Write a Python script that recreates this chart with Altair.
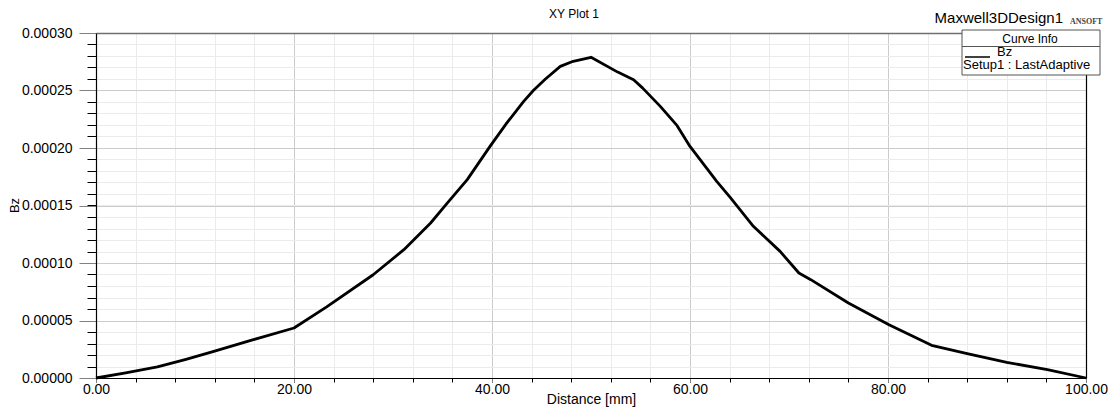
import altair as alt
import pandas as pd

# Curve data
distance_mm = [0, 3.0, 6.2, 9.0, 11.9, 15.9, 20.0, 23.3, 28.0, 31.1, 33.8, 35.5, 37.5,
               39.8, 41.5, 43.2, 44.2, 45.4, 46.9, 48.2, 50.0, 52.7, 54.3, 55.2, 57.0,
               58.7, 60.0, 62.7, 64.1, 66.4, 69.1, 71.0, 72.2, 76.0, 80.1, 84.4, 88.0,
               92.0, 96.1, 100.0]
bz = [0.0, 0.0000045, 0.0000096, 0.0000160, 0.0000231, 0.0000333, 0.0000435, 0.0000618,
      0.0000898, 0.0001116, 0.0001348, 0.0001522, 0.0001725, 0.0002014, 0.0002218,
      0.0002406, 0.0002502, 0.0002600, 0.0002710, 0.0002754, 0.0002789, 0.0002660,
      0.0002594, 0.0002523, 0.0002362, 0.0002194, 0.0002014, 0.0001710, 0.0001566,
      0.0001319, 0.0001101, 0.0000913, 0.0000855, 0.0000652, 0.0000464, 0.0000284,
      0.0000211, 0.0000136, 0.0000072, 0.0]

x_major = [0, 20, 40, 60, 80, 100]
x_minor = [0, 4, 8, 12, 16, 20, 24, 28, 32, 36, 40, 44, 48, 52, 56, 60, 64, 68, 72,
           76, 80, 84, 88, 92, 96, 100]
y_major = [0.0, 0.00005, 0.0001, 0.00015, 0.0002, 0.00025, 0.0003]
y_minor = [i * 0.00001 for i in range(31)]

plot_title = "XY Plot 1"
design_name = "Maxwell3DDesign1"
logo_text = "ANSOFT"
legend_header = "Curve Info"
legend_series = "Bz"
legend_setup = "Setup1 : LastAdaptive"

FONT = "Liberation Sans"
W, H = 990, 345

df = pd.DataFrame({"d": distance_mm, "bz": bz})

xscale = alt.Scale(domain=[0, 100], nice=False, zero=False)
yscale = alt.Scale(domain=[0, 0.0003], nice=False, zero=True)

# minor grid / ticks layer
minor = alt.Chart(df).mark_line(opacity=0).encode(
    x=alt.X("d:Q", scale=xscale, axis=alt.Axis(
        orient="bottom", values=x_minor, labels=False, title=None, domain=False,
        grid=True, gridColor="#ebebeb", gridWidth=1, ticks=True, tickSize=4,
        tickColor="#000000")),
    y=alt.Y("bz:Q", scale=yscale, axis=alt.Axis(
        orient="left", values=y_minor, labels=False, title=None, domain=False,
        grid=True, gridColor="#ebebeb", gridWidth=1, ticks=True, tickSize=9,
        tickColor="#000000")),
)

# main curve with major axes
main = alt.Chart(df).mark_line(color="#000000", strokeWidth=2.8,
                               strokeJoin="round").encode(
    x=alt.X("d:Q", scale=xscale, axis=alt.Axis(
        orient="bottom", values=x_major, format=".2f", title="Distance [mm]",
        labelFont=FONT, labelFontSize=14, labelColor="#000000",
        labelBaseline="top", labelPadding=0, labelFlush=False, labelOverlap=False,
        titleFont=FONT, titleFontSize=14, titleFontWeight="normal",
        titleColor="#000000", titleY=25, titleBaseline="alphabetic",
        domain=True, domainColor="#000000", domainWidth=1.2,
        grid=True, gridColor="#cccccc", gridWidth=1,
        ticks=True, tickSize=4, tickColor="#808080")),
    y=alt.Y("bz:Q", scale=yscale, axis=alt.Axis(
        orient="left", values=y_major, format=".5f", title="Bz",
        labelFont=FONT, labelFontSize=14, labelColor="#000000", labelPadding=7,
        labelFlush=False, labelOverlap=False,
        titleFont=FONT, titleFontSize=13, titleFontWeight="normal",
        titleColor="#000000", titleX=-82, titleY=172, titleAngle=270,
        titleAlign="center", titleBaseline="middle",
        domain=True, domainColor="#000000", domainWidth=1.2,
        grid=True, gridColor="#cccccc", gridWidth=1,
        ticks=True, tickSize=17, tickColor="#808080")),
)

# frame: top (gray) and right (black) edges
frame = alt.Chart(df).mark_line(opacity=0).encode(
    x=alt.X("d:Q", scale=xscale, axis=alt.Axis(
        orient="top", labels=False, ticks=False, grid=False, title=None,
        domain=True, domainColor="#707070", domainWidth=1.5)),
    y=alt.Y("bz:Q", scale=yscale, axis=alt.Axis(
        orient="right", labels=False, ticks=False, grid=False, title=None,
        domain=True, domainColor="#000000", domainWidth=1.2)),
)

one = alt.Data(values=[{}])

title_mark = alt.Chart(one).mark_text(
    font=FONT, fontSize=12, color="#000000", align="center", baseline="middle"
).encode(x=alt.value(478), y=alt.value(-19), text=alt.value(plot_title))

design_mark = alt.Chart(one).mark_text(
    font=FONT, fontSize=15, color="#000000", align="right", baseline="alphabetic"
).encode(x=alt.value(967), y=alt.value(-10), text=alt.value(design_name))

logo_mark = alt.Chart(one).mark_text(
    font="Liberation Serif", fontSize=8, fontWeight="bold", color="#444444",
    align="left", baseline="alphabetic"
).encode(x=alt.value(974), y=alt.value(-9), text=alt.value(logo_text))

legend_box = alt.Chart(one).mark_rect(
    fill="#ffffff", stroke="#555555", strokeWidth=1
).encode(x=alt.value(866), x2=alt.value(1004), y=alt.value(-3), y2=alt.value(42))

legend_sep = alt.Chart(one).mark_rule(color="#555555", strokeWidth=1).encode(
    x=alt.value(866), x2=alt.value(1004), y=alt.value(13.5))

legend_head = alt.Chart(one).mark_text(
    font=FONT, fontSize=12, color="#000000", align="center", baseline="middle"
).encode(x=alt.value(934), y=alt.value(5.5), text=alt.value(legend_header))

legend_line = alt.Chart(one).mark_rule(color="#000000", strokeWidth=1.5).encode(
    x=alt.value(869), x2=alt.value(894), y=alt.value(24))

legend_bz = alt.Chart(one).mark_text(
    font=FONT, fontSize=13, color="#000000", align="left", baseline="middle"
).encode(x=alt.value(901), y=alt.value(18.5), text=alt.value(legend_series))

legend_setup_mark = alt.Chart(one).mark_text(
    font=FONT, fontSize=13, color="#000000", align="left", baseline="middle"
).encode(x=alt.value(867), y=alt.value(32), text=alt.value(legend_setup))

chart = alt.layer(
    minor, main, frame, title_mark, design_mark, logo_mark,
    legend_box, legend_sep, legend_head, legend_line, legend_bz, legend_setup_mark
).resolve_axis(x="independent", y="independent").properties(
    width=W, height=H,
    autosize=alt.AutoSizeParams(type="none"),
    padding={"left": 96, "top": 33, "right": 29, "bottom": 30},
    background="#ffffff",
).configure_view(stroke=None)

chart.save("out.html", embed_options={"renderer": "svg", "actions": False})
